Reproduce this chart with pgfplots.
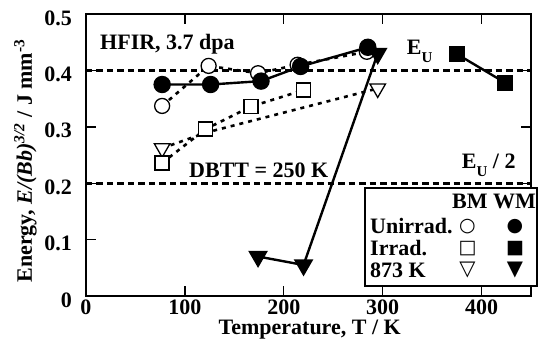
\documentclass[border=0pt]{standalone}
\usepackage{fontspec}
\setmainfont{Liberation Serif}
\newfontfamily\symfont{DejaVu Sans}
\usepackage{pgfplots}
\pgfplotsset{compat=1.18}

\newcommand{\bigfont}{\fontsize{22}{24}\selectfont\bfseries}
\newcommand{\subU}{\raisebox{-8pt}{\fontsize{15}{15}\selectfont\bfseries U}}

\begin{document}
\begin{tikzpicture}
\path[use as bounding box] (-86pt,-42pt) rectangle (461pt,296pt);
\begin{axis}[
  at={(0pt,0pt)}, anchor=south west,
  scale only axis, width=445pt, height=282pt,
  xmin=0, xmax=450, ymin=0, ymax=0.5,
  clip=false,
  axis line style={line width=1.4pt},
  xtick={0,100,200,300,400}, ytick={0,0.1,0.2,0.3,0.4,0.5},
  xticklabels={0,100,200,300,400},
  yticklabels={0,0.1,0.2,0.3,0.4,0.5},
  tick align=inside, major tick length=10pt,
  tick style={line width=1.4pt, black},
  xtick pos=both, ytick pos=both,
  xticklabel pos=lower, yticklabel pos=left,
  /pgf/number format/assume math mode=true,
  tick label style={font=\bigfont},
  xticklabel style={anchor=north, inner sep=0pt, yshift=-4pt},
  yticklabel style={anchor=east, inner sep=0pt, xshift=-14pt, yshift=-4pt},
]
% base metal, unirradiated
\addplot[black, line width=2.6pt, dash pattern=on 4pt off 5pt,
  mark=*, mark size=7.5pt, mark options={solid, line width=1.3pt, fill=white}]
  coordinates {(77,0.337)(124,0.408)(174,0.395)(214,0.410)(284,0.433)};
% base metal, 873 K annealed
\addplot[black, line width=2.6pt, dash pattern=on 4pt off 5pt,
  mark=triangle*, mark size=9pt, mark indices={1,3},
  mark options={solid, rotate=180, line width=1.3pt, fill=white}]
  coordinates {(77,0.262)(122,0.290)(295,0.368)};
% base metal, irradiated
\addplot[black, line width=2.6pt, dash pattern=on 4pt off 5pt,
  mark=square*, mark size=7pt, mark options={solid, line width=1.3pt, fill=white}]
  coordinates {(77,0.236)(121,0.296)(167,0.336)(220,0.365)};
% upper-shelf energy and half of it
\addplot[black, line width=3pt, dash pattern=on 6.5pt off 4pt] coordinates {(0,0.4)(450,0.4)};
\addplot[black, line width=3pt, dash pattern=on 6.5pt off 4pt] coordinates {(0,0.2)(450,0.2)};
% weld metal, unirradiated
\addplot[black, line width=2.4pt, mark=*, mark size=7.5pt, mark options={solid, fill=black}]
  coordinates {(77,0.375)(126,0.375)(177,0.381)(217,0.407)(285,0.441)};
% weld metal, 873 K annealed
\addplot[black, line width=2.4pt, mark=triangle*, mark size=9pt,
  mark options={solid, rotate=180, fill=black}]
  coordinates {(174,0.070)(220,0.055)(295,0.430)};
% weld metal, irradiated
\addplot[black, line width=2.4pt, mark=square*, mark size=7pt, mark options={solid, fill=black}]
  coordinates {(375,0.429)(424,0.378)};
\end{axis}

% annotations
\node[anchor=base west, inner sep=0pt, font=\bigfont] at (14pt,246pt) {HFIR, 3.7 dpa};
\node[anchor=base west, inner sep=0pt, font=\bigfont] at (320.7pt,241pt) {E\subU};
\node[anchor=base west, inner sep=0pt, font=\bigfont] at (375.7pt,128pt) {E\subU\ / 2};
\node[anchor=base west, inner sep=0pt, font=\bigfont] at (103pt,119pt) {DBTT = 250 K};

% axis titles
\node[anchor=base, inner sep=0pt, font=\bigfont] at (223.7pt,-38pt) {Temperature, T / K};
\node[anchor=base, rotate=90, inner sep=0pt, font=\bigfont] at (-54pt,135pt)
  {Energy, \textit{E/(Bb)}\textsuperscript{\textit{3/2}} / J mm\textsuperscript{-3}};

% key
\draw[line width=1.4pt, fill=white] (279pt,10pt) rectangle (451pt,108pt);
\node[anchor=base east, inner sep=0pt, font=\bigfont] at (450pt,88pt) {BM WM};
\node[anchor=base west, inner sep=0pt, font=\bigfont] at (284pt,63pt) {Unirrad.};
\node[anchor=base west, inner sep=0pt, font=\bigfont] at (284pt,41pt) {Irrad.};
\node[anchor=base west, inner sep=0pt, font=\bigfont] at (284pt,19pt) {873 K};
\begin{scope}[every node/.style={inner sep=0pt, font=\symfont\fontsize{19}{19}\selectfont}]
\node at (381.5pt,69pt) {○};
\node at (429pt,69pt) {●};
\node at (381.5pt,47pt) {□};
\node at (429pt,47pt) {■};
\node[font=\symfont\fontsize{21}{21}\selectfont] at (381.5pt,26pt) {▽};
\node[font=\symfont\fontsize{21}{21}\selectfont] at (429pt,26pt) {▼};
\end{scope}
\end{tikzpicture}
\end{document}
